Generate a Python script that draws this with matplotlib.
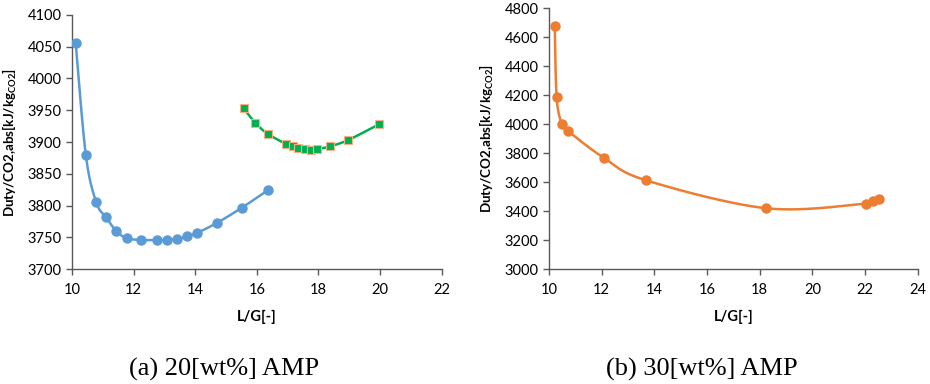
import numpy as np
import matplotlib.pyplot as plt

# 20 wt% AMP, two operating series
lg_a1 = [10.12, 10.45, 10.79, 11.10, 11.44, 11.77, 12.25, 12.75, 13.07, 13.41, 13.74, 14.05, 14.71, 15.52, 16.35]
duty_a1 = [4056, 3879, 3805, 3782, 3760, 3749, 3746, 3746, 3746, 3747, 3752, 3757, 3773, 3797, 3824]
lg_a2 = [15.57, 15.95, 16.35, 16.94, 17.17, 17.35, 17.55, 17.75, 17.96, 18.36, 18.96, 19.97]
duty_a2 = [3953, 3930, 3913, 3897, 3893, 3890, 3889, 3888, 3889, 3893, 3903, 3928]

# 30 wt% AMP
lg_b = [10.22, 10.29, 10.49, 10.72, 12.09, 13.68, 18.25, 22.03, 22.30, 22.53]
duty_b = [4681, 4186, 4002, 3954, 3768, 3614, 3421, 3453, 3469, 3483]

BLUE = '#5b9bd5'
GREEN = '#00b050'
ORANGE = '#ed7d31'
AXIS = '#595959'


def smooth(ax, x, y, n=30):
    # Catmull-Rom style bezier through the points, done in pixel space
    fig = ax.figure
    bb = ax.get_position()
    w = bb.width * fig.get_figwidth() * fig.dpi
    h = bb.height * fig.get_figheight() * fig.dpi
    x0, x1 = ax.get_xlim()
    y0, y1 = ax.get_ylim()
    px = (np.asarray(x, float) - x0) / (x1 - x0) * w
    py = (np.asarray(y, float) - y0) / (y1 - y0) * h
    P = np.column_stack([px, py])
    P = np.vstack([P[0], P, P[-1]])
    out = []
    t = np.linspace(0, 1, n)[:, None]
    for i in range(1, len(P) - 2):
        p0, p1, p2, p3 = P[i - 1], P[i], P[i + 1], P[i + 2]
        c1 = p1 + (p2 - p0) / 6
        c2 = p2 - (p3 - p1) / 6
        seg = ((1 - t) ** 3) * p1 + 3 * ((1 - t) ** 2) * t * c1 + 3 * (1 - t) * t ** 2 * c2 + t ** 3 * p2
        out.append(seg)
    S = np.vstack(out)
    return S[:, 0] / w * (x1 - x0) + x0, S[:, 1] / h * (y1 - y0) + y0


def style(ax):
    for s in ['top', 'right']:
        ax.spines[s].set_visible(False)
    for s in ['left', 'bottom']:
        ax.spines[s].set_color(AXIS)
        ax.spines[s].set_linewidth(1.0)
    ax.tick_params(direction='out', length=4, width=1.0, color=AXIS,
                   labelsize=10.5, labelcolor='#000000')
    ax.tick_params(axis='x', pad=6)
    for lab in ax.get_xticklabels() + ax.get_yticklabels():
        lab.set_family('Lato')
    ax.set_xlabel('L/G[-]', fontsize=10.5, fontweight='bold', family='Lato', labelpad=9)
    ax.set_ylabel(r'Duty/CO2,abs[kJ/kg$_{\mathregular{CO2}}$]', fontsize=9.6,
                  fontweight='bold', family='Lato', labelpad=6)


plt.rcParams['mathtext.fontset'] = 'custom'
plt.rcParams['mathtext.rm'] = 'Lato'
plt.rcParams['mathtext.bf'] = 'Lato:bold'

fig = plt.figure(figsize=(9.3, 3.84), dpi=100)
ax1 = fig.add_axes([0.0774, 0.2987, 0.3976, 0.6630])
ax2 = fig.add_axes([0.5903, 0.2987, 0.3965, 0.6797])

ax1.set_xlim(10, 22)
ax1.set_ylim(3700, 4100)
ax1.set_xticks(np.arange(10, 23, 2))
ax1.set_yticks(np.arange(3700, 4101, 50))
sx, sy = smooth(ax1, lg_a1, duty_a1)
ax1.plot(sx, sy, color=BLUE, lw=1.8, zorder=2)
ax1.plot(lg_a1, duty_a1, 'o', color=BLUE, ms=6.5, zorder=3)
sx, sy = smooth(ax1, lg_a2, duty_a2)
ax1.plot(sx, sy, color=GREEN, lw=1.8, zorder=2)
ax1.plot(lg_a2, duty_a2, 's', mfc=GREEN, mec='#f4b183', mew=0.8, ms=6, zorder=3)
style(ax1)

ax2.set_xlim(10, 24)
ax2.set_ylim(3000, 4800)
ax2.set_xticks(np.arange(10, 25, 2))
ax2.set_yticks(np.arange(3000, 4801, 200))
sx, sy = smooth(ax2, lg_b, duty_b)
ax2.plot(sx, sy, color=ORANGE, lw=1.8, zorder=2)
ax2.plot(lg_b, duty_b, 'o', color=ORANGE, ms=6.5, zorder=3)
style(ax2)

fig.text(224 / 930, 1 - 376 / 384, '(a) 20[wt%] AMP', ha='center', va='baseline',
         family='Liberation Serif', fontsize=19)
fig.text(702 / 930, 1 - 376 / 384, '(b) 30[wt%] AMP', ha='center', va='baseline',
         family='Liberation Serif', fontsize=19)

fig.savefig('out.png', dpi=100)
